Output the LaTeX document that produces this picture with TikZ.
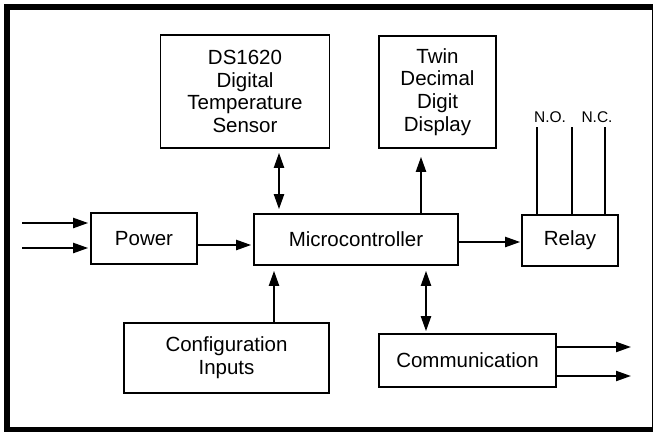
\documentclass[tikz,border=0pt]{standalone}
\usepackage{fontspec}
\setmainfont{Liberation Sans}
\usetikzlibrary{arrows.meta}
\begin{document}
\begin{tikzpicture}[x=1pt,y=-1pt,
  box/.style={draw,line width=1.6pt,inner sep=0pt,align=center,font=\fontsize{20.5}{22.7}\selectfont},
  conn/.style={line width=2.1pt,-{Triangle[length=15pt,width=10pt]}},
  biconn/.style={line width=2.1pt,{Triangle[length=15pt,width=10pt]}-{Triangle[length=15pt,width=10pt]}},
  wire/.style={line width=1.8pt},
  lbl/.style={font=\fontsize{15.5}{16}\selectfont,inner sep=0pt}]
\useasboundingbox (0,0) rectangle (653,432);
% frame
\fill (3.7,4.3) rectangle (10,432);
\fill (3.7,4.3) rectangle (653,10);
\fill (3.7,426.7) rectangle (653,432);
\fill (651.5,4.3) rectangle (653,432);
% boxes
\node[box,minimum width=169pt,minimum height=113pt] (sensor) at (245,91.5) {DS1620\\Digital\\Temperature\\Sensor};
\node[box,minimum width=117pt,minimum height=112pt] (twin) at (437.5,92) {Twin\\Decimal\\Digit\\Display};
\node[box,minimum width=106pt,minimum height=51pt] (power) at (144,238.5) {Power};
\node[box,minimum width=204pt,minimum height=51pt] (micro) at (356,239.5) {Microcontroller};
\node[box,minimum width=96pt,minimum height=51pt] (relay) at (570,240.5) {Relay};
\node[box,minimum width=205pt,minimum height=70pt] (config) at (226.5,358) {Configuration\\Inputs};
\node[box,minimum width=177pt,minimum height=53pt] (comm) at (467.5,360.5) {Communication};
% helper coordinates
\coordinate (in1) at (22,223);
\coordinate (in2) at (22,248);
\coordinate (yp) at (0,245);
\coordinate (yr) at (0,242);
\coordinate (xs) at (279,0);
\coordinate (xt) at (421,0);
\coordinate (xc) at (274,0);
\coordinate (xm) at (426,0);
\coordinate (out1) at (631,347);
\coordinate (out2) at (631,376);
\coordinate (no) at (537,127);
\coordinate (mid) at (572,127);
\coordinate (nc) at (605,127);
% connectors
\draw[conn,shorten >=2pt] (in1) -- (power.west |- in1);
\draw[conn,shorten >=2pt] (in2) -- (power.west |- in2);
\draw[conn,shorten >=2pt] (power.east |- yp) -- (micro.west |- yp);
\draw[conn,shorten >=1pt] (micro.east |- yr) -- (relay.west |- yr);
\draw[biconn,shorten <=4pt,shorten >=4pt] (sensor.south -| xs) -- (micro.north -| xs);
\draw[conn,shorten >=8pt] (micro.north -| xt) -- (twin.south -| xt);
\draw[conn,shorten >=5pt] (config.north -| xc) -- (micro.south -| xc);
\draw[biconn,shorten <=5pt,shorten >=2pt] (micro.south -| xm) -- (comm.north -| xm);
\draw[conn] (comm.east |- out1) -- (out1);
\draw[conn] (comm.east |- out2) -- (out2);
\draw[wire] (relay.north -| no) -- (no);
\draw[wire] (relay.north -| mid) -- (mid);
\draw[wire] (relay.north -| nc) -- (nc);
% labels
\node[lbl] (nolbl) at (550,117) {N.O.};
\node[lbl] (nclbl) at (597,117) {N.C.};
\end{tikzpicture}
\end{document}
